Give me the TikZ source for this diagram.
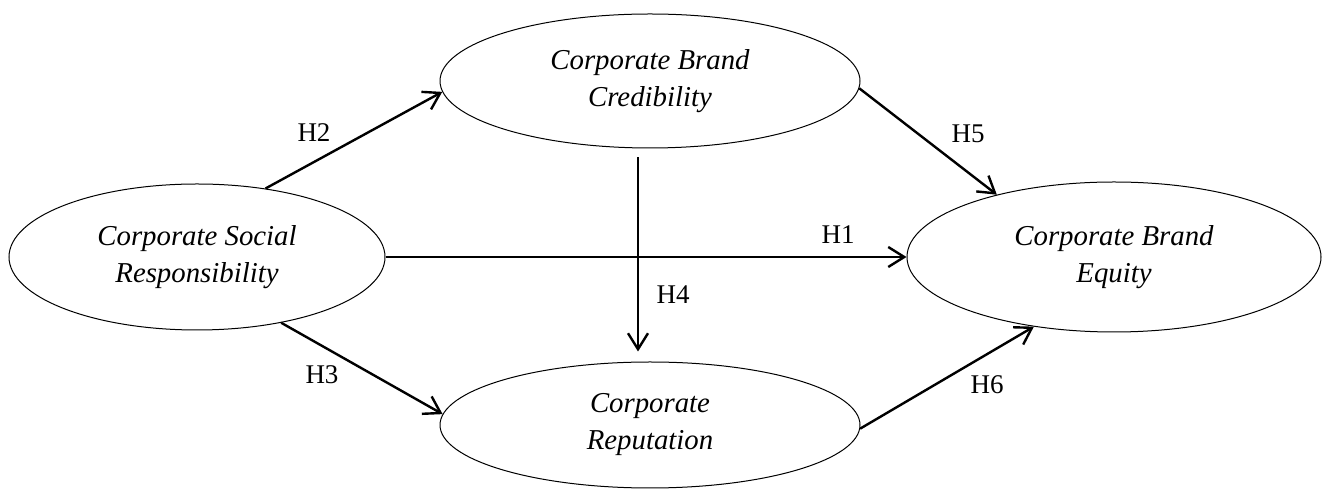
\documentclass[tikz,border=0pt]{standalone}
\usepackage{fontspec}
\setmainfont{Liberation Serif}
\usetikzlibrary{shapes.geometric,arrows.meta}
\begin{document}
\begin{tikzpicture}[x=0.5pt,y=-0.5pt,
  construct/.style={ellipse, draw, line width=0.5pt, inner sep=0pt, align=center,
    font=\fontsize{14.4}{18.5}\selectfont\itshape},
  path/.style={line width=1.2pt, -{Straight Barb[length=8pt,width=10pt,line width=1.2pt]}},
  hyp/.style={inner sep=0pt, font=\fontsize{13.5}{16}\selectfont}]
\useasboundingbox (0,0) rectangle (1322,490);

% latent constructs
\node[construct, minimum width=376pt*0.5, minimum height=146pt*0.5] (csr) at (197,257)
  {Corporate Social\\Responsibility};
\node[construct, minimum width=420pt*0.5, minimum height=134pt*0.5] (cbc) at (650,81)
  {Corporate Brand\\Credibility};
\node[construct, minimum width=420pt*0.5, minimum height=126pt*0.5] (cr) at (650,425)
  {Corporate\\Reputation};
\node[construct, minimum width=414pt*0.5, minimum height=150pt*0.5] (cbe) at (1114,257)
  {Corporate Brand\\Equity};

% hypothesised paths
\draw[path] (csr.45) -- (cbc.183);
\draw[path] (cbc.-2) -- (cbe.152);
\draw[path] (csr.east) -- (cbe.west);
\draw[path] ([xshift=-6pt,yshift=-4.5pt]cbc.south) -- ([xshift=-6pt,yshift=5pt]cr.north);
\draw[path] (csr.-38) -- (cr.177);
\draw[path] (cr.-1) -- (cbe.221);

% hypothesis labels
\node[hyp] (h1) at (838,235) {H1};
\node[hyp] (h2) at (314,133) {H2};
\node[hyp] (h3) at (322,375) {H3};
\node[hyp] (h4) at (673,295) {H4};
\node[hyp] (h5) at (968,134) {H5};
\node[hyp] (h6) at (987,385) {H6};
\end{tikzpicture}
\end{document}
